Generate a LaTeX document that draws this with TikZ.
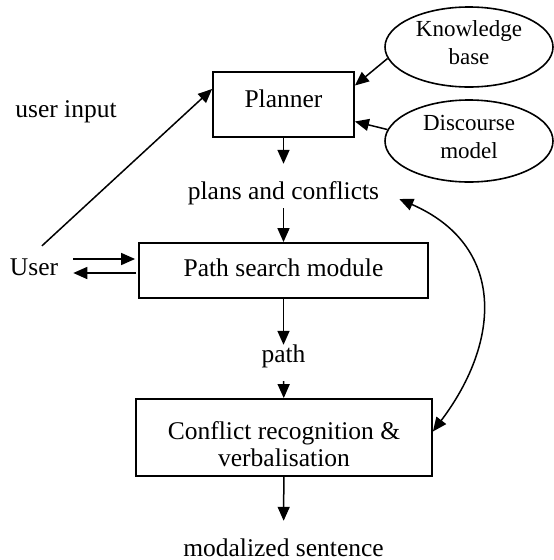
\documentclass[tikz,border=0pt]{standalone}
\usepackage{fontspec}
\setmainfont{Liberation Serif}
\usetikzlibrary{arrows.meta,shapes.geometric}

\begin{document}
\begin{tikzpicture}[x=1pt,y=-1pt,
	boite/.style={draw,line width=1.8pt,inner sep=0pt,font=\fontsize{25.5}{27}\selectfont,text height=17pt,text depth=5pt},
	bulle/.style={draw,ellipse,line width=1.6pt,inner sep=0pt,minimum width=168pt,align=center,text depth=8pt,font=\fontsize{23}{28}\selectfont},
	texte/.style={inner sep=0pt,anchor=base,font=\fontsize{25.5}{27}\selectfont,text height=17pt,text depth=5pt},
	fleche/.style={line width=1.5pt,-{Triangle[length=14pt,width=12pt]}},
	double/.style={line width=1.5pt,{Triangle[length=14pt,width=12pt]}-{Triangle[length=14pt,width=12pt]}}]
					%\draw[help lines] (0,0) grid[step=50] (554,560);
					\useasboundingbox (0,0) rectangle (554,560);

					%BOITES
					\node[boite,minimum width=141pt,minimum height=65pt,text depth=12pt] (planner) at (283.5,104.5) {Planner};
					\node[boite,minimum width=289pt,minimum height=55pt] (path) at (283.5,270.5) {Path search module};
					\node[boite,minimum width=296pt,minimum height=77pt,align=center,text height=62pt] (conflict) at (284,437.5) {Conflict recognition \&\\verbalisation};

					%BULLES
					\node[bulle,minimum height=80pt] (kb) at (469,47) {Knowledge\\base};
					\node[bulle,minimum height=82pt] (dm) at (469,141) {Discourse\\model};

					%TEXTES
					\node[texte] (plans) at (283.5,199) {plans and conflicts};
					\node[texte] (pathlbl) at (283.5,362) {path};
					\node[texte] (modal) at (283.5,556) {modalized sentence};
					\node[texte] (uinput) at (66,117) {user input};
					\node[texte,inner xsep=15pt] (user) at (34,275) {User};

					%FLECHES
					\draw[fleche] (kb.188) -- ([yshift=19]planner.east);
					\draw[fleche] (dm.172) -- ([yshift=-17]planner.east);
					\draw[fleche,shorten >=18pt] (planner) -- (plans);
					\draw[fleche,shorten <=4pt] (plans) -- (path);
					\draw[fleche] (path) -- (pathlbl);
					\draw[fleche,shorten <=14pt] (pathlbl) -- (conflict);
					\draw[fleche,shorten >=18pt] (conflict) -- (modal);

					%USER
					\coordinate (uin) at ([xshift=8,yshift=12]user.north);
					\draw[fleche] (uin) -- ([yshift=15.5]planner.west);
					\coordinate (pin) at ([yshift=11.5]path.west);
					\coordinate (pout) at ([yshift=-2.5]path.west);
					\draw[fleche,shorten >=3pt] (pin -| user.east) -- (pin);
					\draw[fleche,shorten <=2pt] (pout) -- (pout -| user.east);

					%RETOUR
					\draw[double] ([xshift=20]plans.base east) .. controls (505,245) and (502,340) .. ([yshift=6]conflict.east);
				  \end{tikzpicture}
\end{document}
